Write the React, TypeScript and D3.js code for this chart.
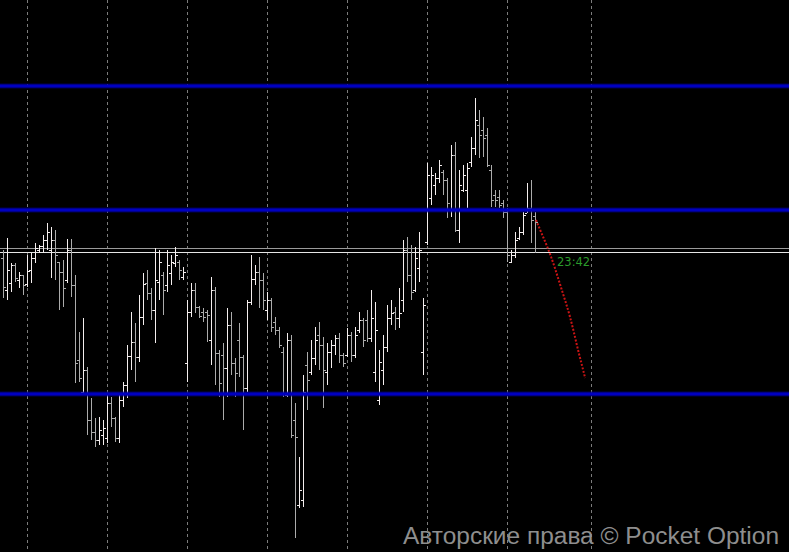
import { curveMonotoneX, line, scaleLinear } from "d3";

// quotes, one value per bar (oldest first)
const opens = [
  1.08442, 1.0841, 1.08417, 1.08435, 1.0842, 1.08425, 1.08416, 1.0843, 1.08442, 1.0845,
  1.08454, 1.0846, 1.0845, 1.0846, 1.08438, 1.08428, 1.0842, 1.0845, 1.08415, 1.0834,
  1.08308, 1.0833, 1.0828, 1.08268, 1.0826, 1.08265, 1.08262, 1.08297, 1.08282, 1.08262,
  1.083, 1.08315, 1.08344, 1.08358, 1.08343, 1.08383, 1.08417, 1.08407, 1.0839, 1.08418,
  1.08425, 1.08415, 1.08427, 1.08437, 1.08438, 1.08423, 1.08337, 1.08388, 1.0841, 1.08393,
  1.08388, 1.08388, 1.0836, 1.0841, 1.08347, 1.08345, 1.08332, 1.08375, 1.08337, 1.0836,
  1.08343, 1.08312, 1.08398, 1.08421, 1.08428, 1.0842, 1.0839, 1.084, 1.08378, 1.0837,
  1.08348, 1.08305, 1.0836, 1.0828, 1.08195, 1.082, 1.08335, 1.08328, 1.08342, 1.08365,
  1.08355, 1.08328, 1.08348, 1.08355, 1.08362, 1.08345, 1.08345, 1.08365, 1.08345, 1.0837,
  1.0838, 1.0838, 1.08362, 1.08328, 1.083, 1.0833, 1.08353, 1.08382, 1.08388, 1.08382,
  1.084, 1.0845, 1.08425, 1.0841, 1.08432, 1.08348, 1.08458, 1.08502, 1.08515, 1.08522,
  1.08528, 1.0852, 1.0849, 1.08545, 1.0847, 1.0851, 1.0851, 1.08538, 1.08552, 1.08575,
  1.0857, 1.08565, 1.0853, 1.08505, 1.08503, 1.08497, 1.08488, 1.08438, 1.08445, 1.08462,
  1.08468, 1.08487, 1.08492, 1.08484,
];
const highs = [
  1.0845, 1.08462, 1.08437, 1.08437, 1.08428, 1.08425, 1.08445, 1.08447, 1.08457, 1.08455,
  1.08465, 1.08477, 1.08473, 1.0847, 1.08438, 1.0844, 1.08461, 1.08461, 1.08425, 1.08368,
  1.08382, 1.08333, 1.08302, 1.08282, 1.08283, 1.0828, 1.08305, 1.08303, 1.08283, 1.08305,
  1.08318, 1.08355, 1.08388, 1.08377, 1.08405, 1.08427, 1.0843, 1.08412, 1.08452, 1.0845,
  1.08428, 1.0845, 1.08445, 1.08453, 1.0844, 1.08433, 1.084, 1.08417, 1.08417, 1.08394,
  1.08392, 1.0839, 1.08423, 1.08413, 1.0835, 1.08357, 1.08392, 1.08388, 1.08342, 1.08377,
  1.08345, 1.084, 1.08445, 1.08435, 1.08443, 1.08427, 1.08408, 1.08402, 1.08383, 1.08373,
  1.08353, 1.08367, 1.08365, 1.08297, 1.08243, 1.08325, 1.08348, 1.0836, 1.08373, 1.08378,
  1.08363, 1.08357, 1.0836, 1.08365, 1.08367, 1.08347, 1.08372, 1.08368, 1.08373, 1.08388,
  1.08382, 1.0839, 1.0841, 1.08398, 1.0835, 1.08365, 1.08395, 1.084, 1.08393, 1.08412,
  1.0846, 1.08463, 1.08455, 1.08453, 1.08468, 1.08402, 1.08537, 1.08533, 1.08527, 1.0854,
  1.0853, 1.08522, 1.08555, 1.08558, 1.0853, 1.08535, 1.08537, 1.08563, 1.08602, 1.0859,
  1.08583, 1.08572, 1.08535, 1.0851, 1.0851, 1.085, 1.08492, 1.0845, 1.08468, 1.08473,
  1.08488, 1.08517, 1.0852, 1.08488,
];
const lows = [
  1.08402, 1.084, 1.08408, 1.08418, 1.08412, 1.08405, 1.08413, 1.08417, 1.08437, 1.08447,
  1.08447, 1.0845, 1.08422, 1.0842, 1.0839, 1.08393, 1.08417, 1.08403, 1.08317, 1.08318,
  1.08305, 1.08265, 1.0826, 1.08253, 1.08255, 1.08255, 1.08257, 1.08273, 1.08258, 1.08257,
  1.08293, 1.08302, 1.0833, 1.08318, 1.08338, 1.08375, 1.084, 1.0838, 1.08357, 1.084,
  1.08385, 1.08408, 1.08415, 1.08433, 1.0842, 1.0842, 1.08318, 1.08383, 1.08387, 1.08382,
  1.08378, 1.08358, 1.08335, 1.08315, 1.08303, 1.0828, 1.08303, 1.08325, 1.08303, 1.08323,
  1.0827, 1.08308, 1.08395, 1.08415, 1.08392, 1.0839, 1.0838, 1.08368, 1.08365, 1.08352,
  1.08303, 1.08303, 1.08262, 1.08162, 1.08192, 1.08193, 1.0829, 1.08325, 1.08335, 1.0833,
  1.08292, 1.08315, 1.08332, 1.08345, 1.08337, 1.08333, 1.08343, 1.08338, 1.08342, 1.08367,
  1.08353, 1.08358, 1.08358, 1.08318, 1.08295, 1.08315, 1.08348, 1.08375, 1.0837, 1.08372,
  1.08388, 1.08418, 1.084, 1.08408, 1.08418, 1.08325, 1.08455, 1.08495, 1.08505, 1.08517,
  1.08505, 1.08482, 1.08483, 1.08468, 1.08457, 1.08508, 1.08492, 1.08533, 1.08545, 1.08542,
  1.08543, 1.08533, 1.08493, 1.08493, 1.08492, 1.08482, 1.08438, 1.08437, 1.08442, 1.0846,
  1.08465, 1.08487, 1.08457, 1.08447,
];
const closes = [
  1.08413, 1.0843, 1.08435, 1.08422, 1.08425, 1.08415, 1.08429, 1.08442, 1.08452, 1.08454,
  1.0846, 1.08468, 1.0846, 1.08445, 1.08428, 1.08412, 1.0845, 1.08415, 1.08337, 1.08322,
  1.0833, 1.0828, 1.08268, 1.0826, 1.0827, 1.08272, 1.08297, 1.08282, 1.08262, 1.083,
  1.08315, 1.08344, 1.08358, 1.08343, 1.08383, 1.08416, 1.08407, 1.0839, 1.0842, 1.08438,
  1.0841, 1.08435, 1.08438, 1.08445, 1.0843, 1.08428, 1.08388, 1.0841, 1.08393, 1.08384,
  1.08383, 1.08385, 1.0841, 1.08347, 1.08317, 1.08332, 1.08375, 1.08337, 1.08327, 1.08343,
  1.08312, 1.08398, 1.08421, 1.08428, 1.0842, 1.084, 1.084, 1.08373, 1.0837, 1.08355,
  1.08307, 1.0836, 1.08265, 1.08263, 1.0821, 1.08308, 1.0832, 1.08342, 1.0836, 1.08355,
  1.0833, 1.08348, 1.08355, 1.08362, 1.08345, 1.08337, 1.08365, 1.08345, 1.08365, 1.0838,
  1.0836, 1.08362, 1.08382, 1.0837, 1.08338, 1.08353, 1.08382, 1.08387, 1.08382, 1.08387,
  1.0845, 1.08425, 1.08408, 1.08442, 1.0845, 1.08395, 1.08525, 1.08525, 1.08522, 1.08535,
  1.0852, 1.08497, 1.08545, 1.0847, 1.08515, 1.08525, 1.08532, 1.08552, 1.0858, 1.08565,
  1.08562, 1.08535, 1.085, 1.085, 1.08495, 1.08488, 1.08445, 1.08445, 1.0846, 1.08468,
  1.08485, 1.08492, 1.0848, 1.08478,
];

// support / resistance levels (blue)
const levels = [1.08614, 1.0849, 1.08306];
// bid (gray) and ask (white) lines
const priceLines = [
  { value: 1.08452, color: "#9a9a9a" },
  { value: 1.08448, color: "#e6e6e6" },
];
// projected path, starting from the last bar
const forecastStart = 133;
const forecast = [
  1.0848, 1.08471, 1.08462, 1.08453, 1.08443, 1.08432, 1.0842, 1.08408, 1.08396,
  1.08383, 1.08368, 1.08352, 1.08337, 1.08322,
];
// bar indexes where the period separators fall
const gridBars = [6, 26, 46, 66, 86, 106, 126, 147];
const timerLabel = "23:42";
const watermark = "Авторские права © Pocket Option";

const width = 789;
const height = 552;

export default function App() {
  const x = scaleLinear().domain([0, 133]).range([3, 535]);
  const y = scaleLinear().domain([1.08148, 1.087]).range([height, 0]);

  const fLine = line<number>()
    .curve(curveMonotoneX)
    .x((_, i) => x(forecastStart + i) + 1 - i * 0.22)
    .y((d) => y(d));

  const px = (v: number) => Math.round(v);

  return (
    <svg
      width={width}
      height={height}
      style={{ position: "absolute", left: 0, top: 0, display: "block" }}
    >
      <rect width={width} height={height} fill="#000" />

      {/* period separators */}
      {gridBars.map((b) => (
        <line
          key={b}
          x1={px(x(b)) + 0.5}
          x2={px(x(b)) + 0.5}
          y1={0}
          y2={height}
          stroke="#7c7c7c"
          strokeWidth={1}
          strokeDasharray="3 3"
        />
      ))}

      {/* bid / ask */}
      {priceLines.map((p, i) => (
        <line
          key={i}
          x1={0}
          x2={width}
          y1={px(y(p.value)) + 0.5}
          y2={px(y(p.value)) + 0.5}
          stroke={p.color}
          strokeWidth={1}
        />
      ))}

      {/* OHLC bars */}
      <g shapeRendering="crispEdges">
        {opens.map((o, i) => {
          const c = closes[i];
          const xc = px(x(i));
          const col = c >= o ? "#f4eeee" : "#acacac";
          const yh = px(y(highs[i]));
          const yl = px(y(lows[i]));
          return (
            <g key={i} fill={col}>
              <rect x={xc} y={yh} width={1} height={Math.max(1, yl - yh)} />
              <rect x={xc - 2} y={px(y(o))} width={2} height={1} />
              <rect x={xc + 1} y={px(y(c))} width={2} height={1} />
            </g>
          );
        })}
      </g>

      {/* levels */}
      {levels.map((l) => (
        <g key={l}>
          <line x1={0} x2={width} y1={y(l)} y2={y(l)} stroke="#00008a" strokeWidth={5} opacity={0.6} />
          <line x1={0} x2={width} y1={y(l)} y2={y(l)} stroke="#0000c0" strokeWidth={3} />
        </g>
      ))}

      {/* forecast */}
      <path
        d={fLine(forecast) || ""}
        fill="none"
        stroke="#cc1414"
        strokeWidth={2}
        strokeDasharray="2 1.6"
      />

      <text
        x={557}
        y={px(y(priceLines[1].value)) + 14}
        fill="#2b9a2b"
        fontFamily="DejaVu Sans, sans-serif"
        fontSize={11.5}
      >
        {timerLabel}
      </text>

      <text
        x={779}
        y={544}
        textAnchor="end"
        fill="#8e8e8e"
        fontFamily="Liberation Sans, Arial, sans-serif"
        fontSize={23}
        textLength={376}
        lengthAdjust="spacingAndGlyphs"
      >
        {watermark}
      </text>
    </svg>
  );
}
